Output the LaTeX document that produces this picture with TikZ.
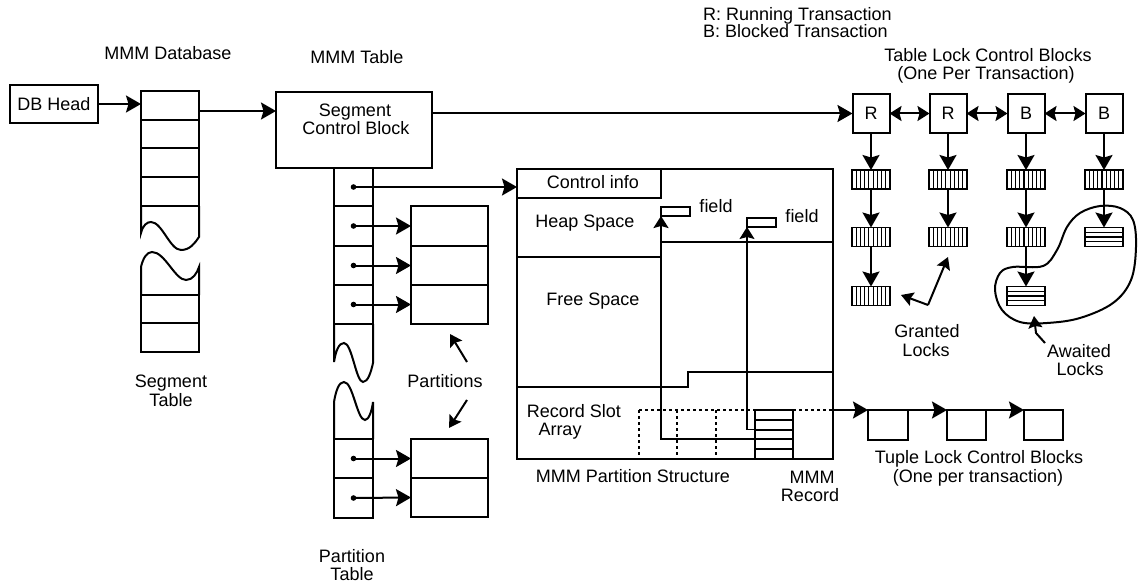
\documentclass[tikz,border=0pt]{standalone}
\usepackage{fontspec}
\setmainfont{Liberation Sans}
\usetikzlibrary{arrows.meta,calc}
\newcommand\lblfont{\fontsize{18}{19}\selectfont}
\begin{document}
\begin{tikzpicture}[x=1pt,y=-1pt,
  ln/.style={line width=2pt},
  box/.style={draw,line width=2pt,inner sep=0pt,outer sep=0pt,anchor=north west},
  cbox/.style={draw,line width=2pt,inner sep=0pt,outer sep=0pt,font=\lblfont},
  arr/.style={line width=2pt,-{Stealth[length=15pt,width=17pt,inset=2.5pt]}},
  sarr/.style={line width=2pt,-{Stealth[length=12pt,width=14pt,inset=2pt]}},
  tarr/.style={line width=1.2pt,-{Stealth[length=12pt,width=15pt,inset=2pt]}},
  farr/.style={line width=2pt,-{Stealth[length=12pt,width=15pt,inset=2pt]}},
  darr/.style={line width=2pt,{Stealth[length=12pt,width=15pt,inset=2pt]}-{Stealth[length=12pt,width=15pt,inset=2pt]}},
  dotln/.style={line width=1.8pt,dash pattern=on 3pt off 3pt},
  lbl/.style={font=\lblfont,inner sep=0pt,anchor=base},
  vh/.style={draw,line width=1.7pt,inner sep=0pt,outer sep=0pt,minimum width=38pt,minimum height=19pt,
    path picture={\foreach \k in {1,...,8}{\draw[line width=1.2pt] ($(path picture bounding box.north west)!\k/9!(path picture bounding box.north east)$) -- ($(path picture bounding box.south west)!\k/9!(path picture bounding box.south east)$);}}},
  hs/.style={draw,line width=1.7pt,inner sep=0pt,outer sep=0pt,minimum width=38pt,minimum height=19pt,
    path picture={\foreach \k in {1,...,3}{\draw[line width=1.4pt] ($(path picture bounding box.north west)!\k/4!(path picture bounding box.south west)$) -- ($(path picture bounding box.north east)!\k/4!(path picture bounding box.south east)$);}}},
]
\useasboundingbox (0,0) rectangle (1138,583);

% ---------- MMM Database ----------
\node[lbl] (dblbl) at (168,60) {MMM Database};
\node[box,minimum width=88pt,minimum height=38pt,font=\lblfont] (dbhead) at (10,85) {DB Head};
\node[box,minimum width=58pt,minimum height=29pt] (s1) at (141,91) {};
\node[box,minimum width=58pt,minimum height=28pt] (s2) at (141,120) {};
\node[box,minimum width=58pt,minimum height=29pt] (s3) at (141,148) {};
\node[box,minimum width=58pt,minimum height=29pt] (s4) at (141,177) {};
\draw[ln] (141,206) -- (141,233) .. controls (143,225) and (147,222) .. (151,222)
  .. controls (162,222) and (170,250) .. (181,250) .. controls (190,250) and (195,243) .. (199,237) -- (199,206);
\draw[ln] (141,295) -- (141,267) .. controls (143,258) and (147,252) .. (152,252)
  .. controls (165,252) and (175,280) .. (186,280) .. controls (193,280) and (197,273) .. (199,267) -- (199,295);
\node[box,minimum width=58pt,minimum height=28pt] (s5) at (141,295) {};
\node[box,minimum width=58pt,minimum height=29pt] (s6) at (141,323) {};
\node[lbl] (seglbl1) at (171,387) {Segment};
\node[lbl] (seglbl2) at (171,406) {Table};
\draw[arr] (dbhead.east) -- (dbhead.east -| s1.west);

% ---------- MMM Table ----------
\node[lbl] (tbllbl) at (357,64) {MMM Table};
\node[box,minimum width=156pt,minimum height=76pt] (scb) at (276,92) {};
\node[lbl] (scbt1) at (355,117) {Segment};
\node[lbl] (scbt2) at (356,135) {Control Block};
\draw[arr] ([yshift=-5.5pt]s1.east) -- ([yshift=-5.5pt]s1.east -| scb.west);

% partition table
\node[box,minimum width=39pt,minimum height=38pt] (p1) at (334,168) {};
\node[box,minimum width=39pt,minimum height=40pt] (p2) at (334,206) {};
\node[box,minimum width=39pt,minimum height=39pt] (p3) at (334,246) {};
\node[box,minimum width=39pt,minimum height=39pt] (p4) at (334,285) {};
\draw[ln] (334,324) -- (334,362) .. controls (336,350) and (339,343) .. (344,343)
  .. controls (352,343) and (356,382) .. (363,382) .. controls (368,382) and (371,372) .. (373,363) -- (373,324);
\draw[ln] (334,439) -- (334,402) .. controls (336,390) and (339,382) .. (344,382)
  .. controls (353,382) and (357,420) .. (365,420) .. controls (369,420) and (372,410) .. (373,402) -- (373,439);
\node[box,minimum width=39pt,minimum height=39pt] (p5) at (334,439) {};
\node[box,minimum width=39pt,minimum height=40pt] (p6) at (334,478) {};
\node[lbl] (ptl1) at (352,562) {Partition};
\node[lbl] (ptl2) at (352,580) {Table};

% partitions
\node[box,minimum width=77pt,minimum height=40pt] (q1) at (411,206) {};
\node[box,minimum width=77pt,minimum height=39pt] (q2) at (411,246) {};
\node[box,minimum width=77pt,minimum height=39pt] (q3) at (411,285) {};
\node[box,minimum width=77pt,minimum height=39pt] (q4) at (411,439) {};
\node[box,minimum width=77pt,minimum height=39pt] (q5) at (411,478) {};
\node[lbl] (partlbl) at (445,387) {Partitions};
\coordinate (pa1) at (467,362);
\coordinate (pa2) at (467,400);
\draw[sarr] (pa1) -- (450,334);
\draw[sarr] (pa2) -- (449,428);

% ---------- MMM Partition Structure ----------
\node[box,minimum width=316pt,minimum height=290pt] (ps) at (517,169) {};
\node[box,minimum width=144pt,minimum height=29pt] (ci) at (517,169) {};
\node[lbl] (citxt) at (593,189) {Control info};
\node[lbl] (heap) at (585,227) {Heap Space};
\node[lbl] (free) at (593,305) {Free Space};
\node[lbl] (rs1) at (574,417) {Record Slot};
\node[lbl] (rs2) at (560,435) {Array};
\draw[ln] (517,257) -- (661,257);
\draw[ln] (661,242) -- (833,242);
\draw[ln] (517,387) -- (688,387) -- (688,372) -- (833,372);
\node[draw,line width=1.6pt,inner sep=0pt,outer sep=0pt,anchor=north west,minimum width=29pt,minimum height=9pt] (f1) at (661,207) {};
\node[draw,line width=1.6pt,inner sep=0pt,outer sep=0pt,anchor=north west,minimum width=29pt,minimum height=9pt] (f2) at (747,218) {};
\node[lbl] (f1l) at (716,212) {field};
\node[lbl] (f2l) at (802,222) {field};
\node[box,minimum width=38pt,minimum height=49pt] (rec) at (755,410) {};
\foreach \f in {0.2,0.4,0.6,0.8}
  \draw[ln] ($(rec.north west)!\f!(rec.south west)$) -- ($(rec.north east)!\f!(rec.south east)$);
\draw[farr] ($(rec.north west)!0.6!(rec.south west)$) -| (f1.south west);
\draw[tarr] ($(rec.north west)!0.4!(rec.south west)$) -| (f2.south west);
\draw[dotln] (639,410) -- (rec.north west);
\draw[dotln] (rec.north east) -- (rec.north -| ps.east);
\foreach \x in {639,677,716} \draw[dotln] (\x,410) -- (\x,459);
\node[lbl] (pslbl) at (633,482) {MMM Partition Structure};
\node[lbl] (recl1) at (812,483) {MMM};
\node[lbl] (recl2) at (810,501) {Record};

% dots and arrows from partition table
\foreach \n in {p1,p2,p3,p4,p5,p6} \fill (\n.center) circle (2.8pt);
\draw[arr] (p1.center) -- (p1.center -| ps.west);
\draw[arr] (p2.center) -- (q1.west);
\draw[arr] (p3.center) -- (q2.west);
\draw[arr] (p4.center) -- (q3.west);
\draw[arr] (p5.center) -- (q4.west);
\draw[arr] (p6.center) -- (q5.west);

% ---------- Tuple locks ----------
\node[box,minimum width=40pt,minimum height=30pt] (t1) at (868,410) {};
\node[box,minimum width=39pt,minimum height=30pt] (t2) at (947,410) {};
\node[box,minimum width=39pt,minimum height=30pt] (t3) at (1024,410) {};
\draw[arr] (rec.north -| ps.east) -- (t1.north west);
\draw[arr] (t1.north west) -- (t2.north west);
\draw[arr] (t2.north west) -- (t3.north west);
\node[lbl] (tl1) at (979,463) {Tuple Lock Control Blocks};
\node[lbl] (tl2) at (978,482) {(One per transaction)};

% ---------- Table lock control blocks ----------
\node[lbl,anchor=base west] (leg1) at (703,21) {R: Running Transaction};
\node[lbl,anchor=base west] (leg2) at (703,38) {B: Blocked Transaction};
\node[lbl] (tlc1) at (988,62) {Table Lock Control Blocks};
\node[lbl] (tlc2) at (986,80) {(One Per Transaction)};
\node[cbox,minimum width=37pt,minimum height=39pt] (lc1) at (871,113.5) {R};
\node[cbox,minimum width=37pt,minimum height=39pt] (lc2) at (948,113.5) {R};
\node[cbox,minimum width=37pt,minimum height=39pt] (lc3) at (1026,113.5) {B};
\node[cbox,minimum width=37pt,minimum height=39pt] (lc4) at (1104,113.5) {B};
\draw[arr] (scb.east |- lc1.west) -- (lc1.west);
\draw[darr] (lc1.east) -- (lc2.west);
\draw[darr] (lc2.east) -- (lc3.west);
\draw[darr] (lc3.east) -- (lc4.west);

\node[vh] (g11) at (871,179.5) {};
\node[vh] (g12) at (871,237) {};
\node[vh] (g13) at (871,296) {};
\node[vh] (g21) at (948,179.5) {};
\node[vh] (g22) at (948,237) {};
\node[vh] (g31) at (1026,179.5) {};
\node[vh] (g32) at (1026,237) {};
\node[hs] (g33) at (1026,296) {};
\node[vh] (g41) at (1104,179.5) {};
\node[hs] (g42) at (1104,237) {};
\draw[arr] (lc1.south) -- (g11.north);
\draw[arr] (g11.south) -- (g12.north);
\draw[arr] (g12.south) -- (g13.north);
\draw[arr] (lc2.south) -- (g21.north);
\draw[arr] (g21.south) -- (g22.north);
\draw[arr] (lc3.south) -- (g31.north);
\draw[arr] (g31.south) -- (g32.north);
\draw[arr] (g32.south) -- (g33.north);
\draw[arr] (lc4.south) -- (g41.north);
\draw[arr] (g41.south) -- (g42.north);

% granted
\node[lbl] (gr1) at (927,337) {Granted};
\node[lbl] (gr2) at (926,356) {Locks};
\coordinate (gv) at (928,305);
\draw[sarr] (gv) -- (901,295);
\draw[sarr] (gv) -- (948,257);

% awaited
\draw[ln] plot[smooth cycle,tension=0.6] coordinates {
  (1100,206) (1120,208) (1133,220) (1136,247) (1131,280) (1113,303) (1080,318) (1047,323)
  (1020,322) (1002,310) (995,290) (1000,273) (1013,267) (1043,266) (1057,250) (1067,227) (1080,213)};
\node[lbl] (aw1) at (1079,357) {Awaited};
\node[lbl] (aw2) at (1080,375) {Locks};
\draw[sarr] (1045,343) -- (1036,333) -- (1034,316);
\end{tikzpicture}
\end{document}
